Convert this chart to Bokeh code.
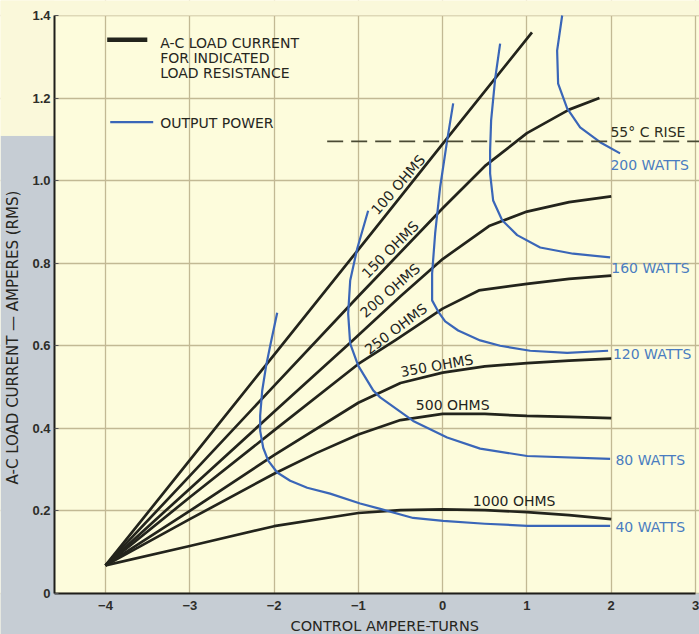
from bokeh.plotting import figure
from bokeh.models import Label, Range1d, FixedTicker
from bokeh.embed import file_html
from bokeh.resources import INLINE
from bokeh.core.properties import value

# ---------------- data ----------------
x_ticks = [-4, -3, -2, -1, 0, 1, 2, 3]
x_tick_labels = ["\u22124", "\u22123", "\u22122", "\u22121", "0", "1", "2", "3"]
y_ticks = [0, 0.2, 0.4, 0.6, 0.8, 1.0, 1.2, 1.4]
y_tick_labels = ["0", "0.2", "0.4", "0.6", "0.8", "1.0", "1.2", "1.4"]

# A-C load current for indicated load resistance (black curves)
ohm100_x = [-4.0, -3.0, -2.0, -1.0, 0.0, 1.06]
ohm100_y = [0.068, 0.323, 0.578, 0.833, 1.089, 1.359]
ohm150_x = [-4.0, -3.0, -2.0, -1.0, 0.0, 0.5, 1.0, 1.5, 1.86]
ohm150_y = [0.068, 0.285, 0.503, 0.72, 0.933, 1.035, 1.115, 1.172, 1.2]
ohm200_x = [-4.0, -3.0, -2.0, -1.1, -0.5, 0.0, 0.55, 1.0, 1.5, 2.0]
ohm200_y = [0.068, 0.254, 0.44, 0.607, 0.72, 0.81, 0.89, 0.925, 0.948, 0.962]
ohm250_x = [-4.0, -3.0, -2.0, -1.0, -0.55, 0.0, 0.43, 1.0, 1.5, 2.0]
ohm250_y = [0.068, 0.233, 0.395, 0.556, 0.615, 0.69, 0.734, 0.75, 0.762, 0.77]
ohm350_x = [-4.0, -3.0, -2.0, -1.0, -0.5, 0.0, 0.5, 1.0, 1.5, 2.0]
ohm350_y = [0.068, 0.2, 0.335, 0.462, 0.51, 0.535, 0.55, 0.558, 0.564, 0.569]
ohm500_x = [-4.0, -3.0, -2.0, -1.5, -1.0, -0.5, 0.0, 0.5, 1.0, 1.5, 2.0]
ohm500_y = [0.068, 0.18, 0.29, 0.34, 0.385, 0.42, 0.435, 0.435, 0.43, 0.428, 0.425]
ohm1000_x = [-4.0, -3.0, -2.0, -1.0, -0.5, 0.0, 0.5, 1.0, 1.5, 2.0]
ohm1000_y = [0.068, 0.115, 0.163, 0.195, 0.202, 0.204, 0.202, 0.197, 0.19, 0.18]

# Output power (blue curves)
w40_x = [-1.963, -2.046, -2.094, -2.141, -2.165, -2.165, -2.129, -2.07, -1.963, -1.809,
         -1.607, -1.335, -0.979, -0.741, -0.35, 0.006, 0.5, 1.002, 1.987]
w40_y = [0.68, 0.6, 0.552, 0.491, 0.431, 0.394, 0.353, 0.322, 0.293, 0.273,
         0.256, 0.242, 0.218, 0.205, 0.183, 0.176, 0.169, 0.164, 0.164]
w80_x = [-0.884, -1.014, -1.097, -1.121, -1.097, -1.002, -0.824, -0.741, -0.35, 0.053,
         0.445, 1.002, 1.987]
w80_y = [0.927, 0.835, 0.758, 0.678, 0.605, 0.552, 0.492, 0.475, 0.418, 0.378,
         0.351, 0.333, 0.326]
w120_x = [0.125, 0.053, -0.03, -0.089, -0.125, -0.125, -0.053, 0.03, 0.184, 0.445,
          0.682, 1.038, 1.477, 1.963]
w120_y = [1.187, 1.097, 0.984, 0.872, 0.775, 0.71, 0.683, 0.659, 0.637, 0.613,
          0.6, 0.588, 0.583, 0.588]
w160_x = [0.682, 0.623, 0.575, 0.563, 0.563, 0.599, 0.706, 0.884, 1.157, 1.548, 1.987]
w160_y = [1.332, 1.247, 1.146, 1.073, 1.017, 0.952, 0.904, 0.868, 0.838, 0.823, 0.814]
w200_x = [1.418, 1.358, 1.37, 1.477, 1.631, 1.868, 2.105]
w200_y = [1.4, 1.315, 1.235, 1.175, 1.129, 1.093, 1.066]

rise_level = 1.095     # 55 deg C rise limit
rise_start = -1.37

ohm_labels = ["100 OHMS", "150 OHMS", "200 OHMS", "250 OHMS", "350 OHMS", "500 OHMS", "1000 OHMS"]
watt_labels = ["200 WATTS", "160 WATTS", "120 WATTS", "80 WATTS", "40 WATTS"]

# ---------------- layout / style ----------------
X_MIN, X_MAX = -5.2457, 3.0472      # whole canvas
Y_MIN, Y_MAX = -0.0993, 1.4363
X_AXIS = -4.605                      # chart box left edge
X_END = 3.0                          # chart box right edge
Y_TOP = 1.4                          # chart box top edge
Y_PAGE_SPLIT = 1.109                 # where the grey scan background starts
ohm_lab_x = [-0.528, -0.623, -0.623, -0.555, -0.069, 0.119, 0.848]
ohm_lab_y = [0.99, 0.833, 0.734, 0.641, 0.552, 0.457, 0.225]
ohm_lab_ang = [49, 45, 41, 37, 10, 0, 0]
watt_lab_x = [1.99, 2.0, 2.02, 2.05, 2.05]
watt_lab_y = [1.039, 0.789, 0.579, 0.324, 0.162]

BLACK = "#23241c"
BLUE = "#3a66b8"
LABEL_BLUE = "#4a7cc0"
CREAM = "#fdfcdc"
PAGE = "#faf8da"
GRAY = "#c6cdd4"
FONT = "DejaVu Sans"

p = figure(width=699, height=634, x_range=Range1d(X_MIN, X_MAX), y_range=Range1d(Y_MIN, Y_MAX),
           output_backend="svg", toolbar_location=None,
           min_border_left=0, min_border_right=0, min_border_top=0, min_border_bottom=0)
p.background_fill_color = CREAM
p.border_fill_color = GRAY
p.outline_line_color = None

# axes, pinned to the chart box edges
p.xaxis.fixed_location = 0
p.yaxis.fixed_location = X_AXIS
p.xaxis.bounds = (X_AXIS, X_END)
p.yaxis.bounds = (0, Y_TOP)
p.xaxis.ticker = FixedTicker(ticks=x_ticks)
p.yaxis.ticker = FixedTicker(ticks=y_ticks)
p.xaxis.major_label_overrides = dict(zip(x_ticks, x_tick_labels))
p.yaxis.major_label_overrides = dict(zip(y_ticks, y_tick_labels))
for ax in (p.xaxis, p.yaxis):
    ax.axis_line_color = "#1e1e1a"
    ax.axis_line_width = 2
    ax.minor_tick_line_color = None
    ax.major_tick_out = 0
    ax.major_label_text_font = "Liberation Sans"
    ax.major_label_text_font_style = "bold"
    ax.major_label_text_font_size = "13px"
    ax.major_label_text_color = "#2e2e2a"
p.yaxis.major_tick_in = 4
p.yaxis.major_tick_line_color = "#555"
p.xaxis.major_tick_in = 0
p.xaxis.major_tick_line_color = None
p.yaxis.major_label_standoff = 4
p.xaxis.major_label_standoff = 7

p.xgrid.ticker = FixedTicker(ticks=x_ticks)
p.ygrid.ticker = FixedTicker(ticks=y_ticks)
p.grid.grid_line_color = "#c2b994"
p.grid.grid_line_width = 1.3

# page background outside the chart box (scan: cream at top, grey-blue below)
p.quad(left=[X_MIN, X_MIN], right=[X_AXIS, X_MAX], bottom=[Y_MIN, Y_MIN],
       top=[Y_PAGE_SPLIT, 0], fill_color=GRAY, line_alpha=0)
p.quad(left=[X_MIN, X_MIN], right=[X_AXIS, X_MAX], bottom=[Y_PAGE_SPLIT, Y_TOP],
       top=[Y_MAX, Y_MAX], fill_color=PAGE, line_alpha=0)

# axis titles
p.add_layout(Label(x=-5.1033, y=0.62, text="A-C LOAD CURRENT \u2014 AMPERES (RMS)", angle=90,
                   angle_units="deg", text_font=FONT, text_font_size="15px",
                   text_color="#26261e", text_align="center", text_baseline="middle"))
p.add_layout(Label(x=-1.805, y=-0.0799, text="CONTROL AMPERE-TURNS",
                   text_font=FONT, text_font_size="14.5px",
                   text_color="#26261e", text_align="left", text_baseline="middle"))

# black load-current curves
for xs, ys in [(ohm100_x, ohm100_y), (ohm150_x, ohm150_y), (ohm200_x, ohm200_y),
               (ohm250_x, ohm250_y), (ohm350_x, ohm350_y), (ohm500_x, ohm500_y),
               (ohm1000_x, ohm1000_y)]:
    p.line(xs, ys, line_color=BLACK, line_width=2.7, line_join="round")

# blue power curves
for xs, ys in [(w40_x, w40_y), (w80_x, w80_y), (w120_x, w120_y), (w160_x, w160_y),
               (w200_x, w200_y)]:
    p.line(xs, ys, line_color=BLUE, line_width=2.2, line_join="round")

# 55 C rise dashed line
p.line([rise_start, X_MAX], [rise_level, rise_level], line_color="#4a4a34",
       line_width=1.8, line_dash="16 8")

# curve labels
p.text(x=ohm_lab_x, y=ohm_lab_y, text=ohm_labels, angle=ohm_lab_ang, angle_units="deg",
       text_font=value(FONT), text_font_size=value("14px"), text_color=BLACK,
       text_align="center", text_baseline="middle")
p.text(x=watt_lab_x, y=watt_lab_y, text=watt_labels,
       text_font=value(FONT), text_font_size=value("14px"), text_color=LABEL_BLUE,
       text_align="left", text_baseline="middle")
p.text(x=[1.99], y=[1.117], text=["55\u00b0 C RISE"],
       text_font=value(FONT), text_font_size=value("14px"), text_color="#2d2d20",
       text_align="left", text_baseline="middle")

# legend (drawn by hand as in the original)
legend_black_x = [-3.98, -3.504]
legend_black_y = [1.341, 1.341]
legend_blue_x = [-3.944, -3.434]
legend_blue_y = [1.1415, 1.1415]
p.line(legend_black_x, legend_black_y, line_color=BLACK, line_width=4.5)
p.line(legend_blue_x, legend_blue_y, line_color=BLUE, line_width=2.2)
for txt, yy in [("A-C LOAD CURRENT", 1.3335), ("FOR INDICATED", 1.2959),
                ("LOAD RESISTANCE", 1.2596), ("OUTPUT POWER", 1.1396)]:
    p.add_layout(Label(x=-3.351, y=yy, text=txt, text_font=FONT, text_font_size="14px",
                       text_color="#26261e", text_align="left", text_baseline="middle"))

open("out.html", "w").write(file_html(p, INLINE))
